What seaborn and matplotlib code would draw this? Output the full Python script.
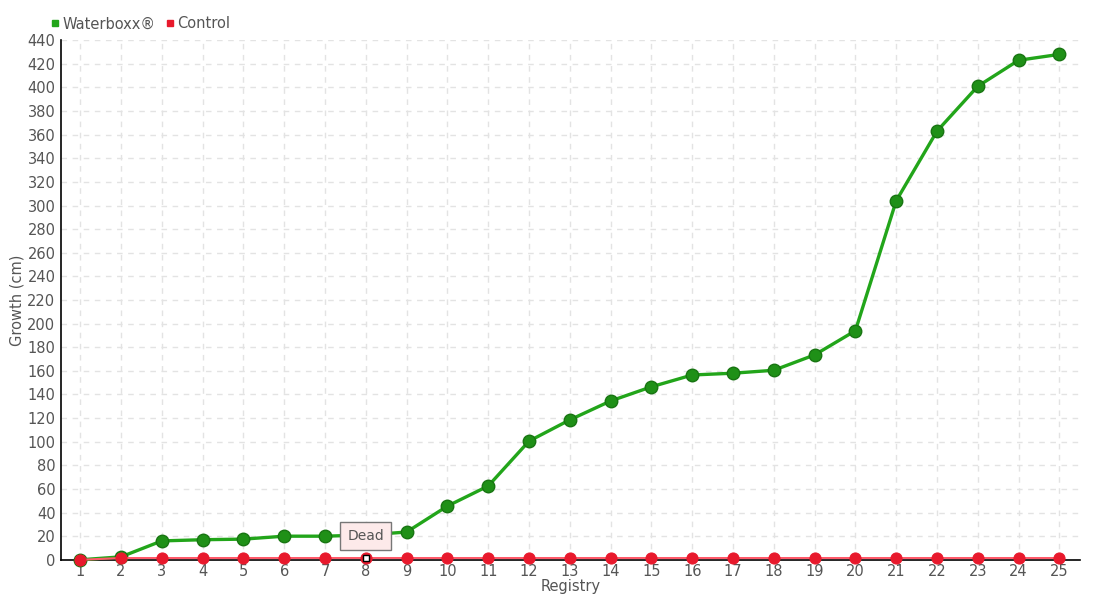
import numpy as np
import pandas as pd
import matplotlib.pyplot as plt
import seaborn as sns

# Valori
registry = list(range(1, 26))
waterboxx = [0, 2.5, 16, 17, 17.5, 20, 20, 21, 23.5, 45.5, 62.5, 100.5, 118.5, 134.5,
             146.5, 156.5, 158, 160.5, 173.5, 194, 304, 363, 401, 423, 428]
control = [0] + [1.5] * 24
dead_at = 8

df = pd.DataFrame({
    "Registry": registry * 2,
    "Growth": waterboxx + control,
    "Serie": ["Waterboxx®"] * 25 + ["Control"] * 25,
})

sns.set_theme(style="white")
plt.rcParams['font.family'] = ['DejaVu Sans']
txt = "#555555"

fig, ax = plt.subplots(figsize=(11, 6), dpi=100)
fig.subplots_adjust(left=0.0555, right=0.982, top=0.933, bottom=0.067)

green = "#22a51a"
red = "#e8192c"

sns.lineplot(data=df[df["Serie"] == "Waterboxx®"], x="Registry", y="Growth",
             color=green, lw=2.4, marker="o", markersize=9,
             markerfacecolor="#1f9017", markeredgecolor="#187512", markeredgewidth=1,
             ax=ax, zorder=4, clip_on=False)
sns.lineplot(data=df[df["Serie"] == "Control"], x="Registry", y="Growth",
             color="#ff5a6a", lw=1.5, marker="o", markersize=8,
             markerfacecolor=red, markeredgecolor=red,
             ax=ax, zorder=5, clip_on=False)

# marcatore "Dead"
ax.plot([dead_at], [control[dead_at - 1]], marker="s", markersize=5,
        markerfacecolor="white", markeredgecolor="black", zorder=7, clip_on=False)
ax.annotate("Dead", xy=(dead_at, control[dead_at - 1]), xytext=(0, 16),
            textcoords="offset points", ha="center", va="center",
            fontsize=10, color=txt, zorder=8,
            bbox=dict(boxstyle="square,pad=0.5", fc="#fdeaea", ec="#777777", lw=1))

ax.set_xlim(0.53, 25.51)
ax.set_ylim(0, 440)
ax.set_xticks(registry)
ax.set_yticks(np.arange(0, 441, 20))
ax.grid(True, color="#e3e3e3", linestyle=(0, (4, 4)), lw=1)
for s in ["top", "right"]:
    ax.spines[s].set_visible(False)
for s in ["left", "bottom"]:
    ax.spines[s].set_color("black")
    ax.spines[s].set_linewidth(1.2)
ax.tick_params(axis="y", direction="inout", length=6, width=1, colors="black",
               labelcolor=txt, labelsize=10.5, pad=1)
ax.tick_params(axis="x", length=0, labelcolor=txt, labelsize=10.5, pad=3)

ax.set_xlabel("Registry", fontsize=10.5, color=txt, labelpad=0)
ax.set_ylabel("Growth (cm)", fontsize=10.5, color=txt, labelpad=2)

handles = [plt.Line2D([], [], ls="", marker="s", markersize=5, color=green),
           plt.Line2D([], [], ls="", marker="s", markersize=5, color=red)]
ax.legend(handles, ["Waterboxx®", "Control"], loc="lower left",
          bbox_to_anchor=(-0.02, 1.0), ncol=2, frameon=False, fontsize=10.5,
          handletextpad=0.1, columnspacing=0.6, handlelength=0.8, labelcolor=txt,
          borderaxespad=0.2)

plt.savefig("out.png", dpi=100)
